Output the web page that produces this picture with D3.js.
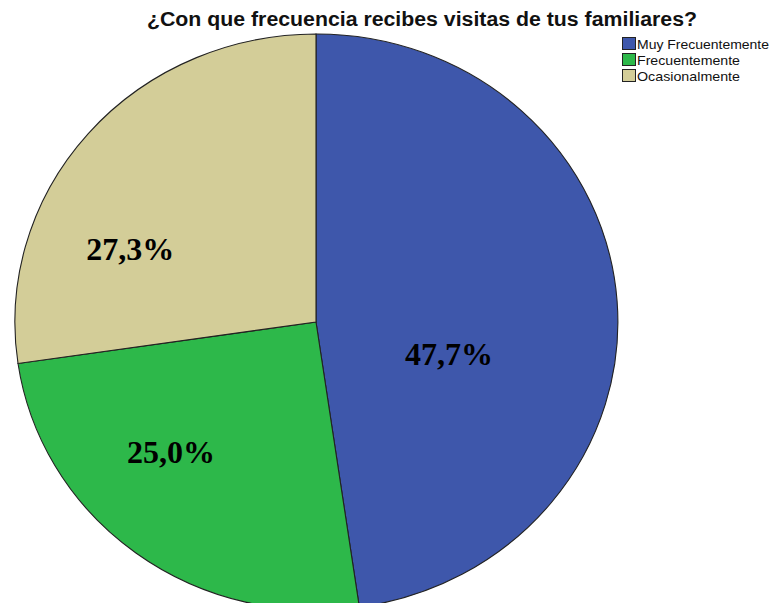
<!DOCTYPE html>
<html><head><meta charset="utf-8">
<script src="https://cdn.jsdelivr.net/npm/d3@7"></script>
<style>body{margin:0;background:#fff}svg{display:block}</style>
</head><body>
<svg id="c" width="772" height="603"></svg>
<script>
const categories = ["Muy Frecuentemente", "Frecuentemente", "Ocasionalmente"];
const values = [47.7, 25.0, 27.3];
const labels = ["47,7%", "25,0%", "27,3%"];
const colors = ["#3e57ab", "#2db84a", "#d3cd98"];
const labelNudge = [[-17, 42], [-55, 15], [-72, 21]];
const title = "¿Con que frecuencia recibes visitas de tus familiares?";

const svg = d3.select("#c");
const cx = 316, cy = 322, rx = 301, ry = 288;

svg.append("text").attr("x", 147).attr("y", 26)
  .attr("textLength", 550).attr("lengthAdjust", "spacingAndGlyphs")
  .style("font-family", "Liberation Sans, Arial, sans-serif").style("font-weight", "bold")
  .style("font-size", "19.5px").attr("fill", "#111").text(title);

const pie = d3.pie().sort(null).value(d => d);
const arcs = pie(values);
const arc = d3.arc().innerRadius(0).outerRadius(1);

const g = svg.append("g").attr("transform", `translate(${cx},${cy}) scale(${rx},${ry})`);
g.selectAll("path").data(arcs).join("path")
  .attr("d", arc).attr("fill", (d, i) => colors[i])
  .attr("stroke", "#222").attr("stroke-width", 1.1).attr("vector-effect", "non-scaling-stroke");

const lab = d3.arc().innerRadius(0).outerRadius(1);
svg.selectAll("text.lbl").data(arcs).join("text").attr("class", "lbl")
  .attr("x", (d, i) => cx + lab.centroid(d)[0] * rx + labelNudge[i][0])
  .attr("y", (d, i) => cy + lab.centroid(d)[1] * ry + labelNudge[i][1])
  .attr("text-anchor", "middle").attr("dominant-baseline", "central")
  .style("font-family", "Liberation Serif, 'Times New Roman', serif").style("font-weight", "bold")
  .style("font-size", "32px").attr("fill", "#000").text((d, i) => labels[i]);

const leg = svg.append("g").attr("transform", "translate(622,37)");
const row = leg.selectAll("g").data(categories).join("g").attr("transform", (d, i) => `translate(0,${i * 16})`);
row.append("rect").attr("x", 0.5).attr("y", 0.5).attr("width", 13).attr("height", 12)
  .attr("fill", (d, i) => colors[i]).attr("stroke", "#222").attr("stroke-width", 1);
row.append("text").attr("x", 15).attr("y", 7).attr("dominant-baseline", "central")
  .attr("textLength", 132).attr("lengthAdjust", "spacingAndGlyphs")
  .attr("textLength", (d, i) => [132, 103, 103][i])
  .style("font-family", "Liberation Sans, Arial, sans-serif").style("font-size", "13.5px")
  .attr("fill", "#111").text(d => d);
</script>
</body></html>
